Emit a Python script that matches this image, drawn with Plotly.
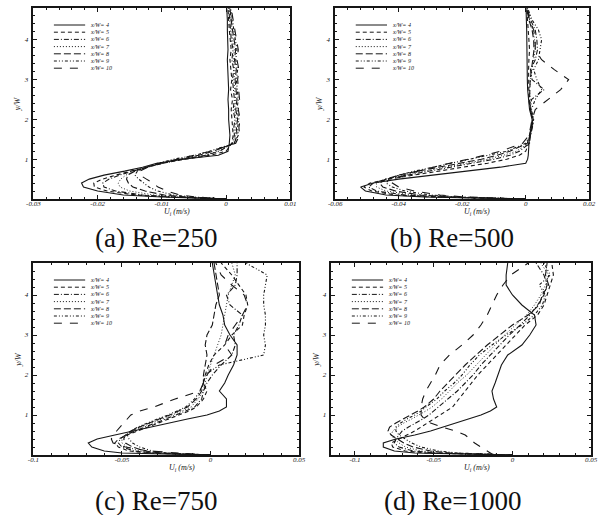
import plotly.graph_objects as go

# Heights y/W shared by every velocity profile
Y = [0, 0.05, 0.1, 0.2, 0.3, 0.4, 0.5, 0.6, 0.7, 0.8, 0.9, 1.0, 1.1, 1.2, 1.4, 1.6,
     1.8, 2.0, 2.25, 2.5, 2.75, 3.0, 3.25, 3.5, 3.75, 4.0, 4.25, 4.5, 4.8]

STATIONS = ["x/W= 4", "x/W= 5", "x/W= 6", "x/W= 7", "x/W= 8", "x/W= 9", "x/W= 10"]
CAPTIONS = ["(a) Re=250", "(b) Re=500", "(c) Re=750", "(d) Re=1000"]

# ---- Re = 250 : U_i (m/s) at each height, one list per station
u250_4 = [0, -.0100, -.0160, -.0200, -.0222, -.0225, -.0213, -.0190, -.0158, -.0130, -.0108, -.0068, -.0012, .0003, .0005, .0006, .0005, .0004, .0004, .0003, .0004, .0003, .0003, .0002, .0003, .0002, .0002, .0002, .0001]
u250_5 = [0, -.0090, -.0140, -.0185, -.0205, -.0206, -.0192, -.0172, -.0148, -.0122, -.0098, -.0064, -.0024, .0000, .0009, .0011, .0010, .0009, .0008, .0010, .0007, .0009, .0008, .0006, .0008, .0006, .0005, .0004, .0003]
u250_6 = [0, -.0082, -.0130, -.0172, -.0190, -.0192, -.0182, -.0166, -.0145, -.0123, -.0100, -.0068, -.0032, -.0010, .0010, .0013, .0012, .0014, .0011, .0013, .0012, .0010, .0012, .0009, .0011, .0008, .0007, .0006, .0004]
u250_7 = [0, -.0072, -.0112, -.0150, -.0165, -.0168, -.0164, -.0156, -.0142, -.0122, -.0098, -.0066, -.0032, -.0013, .0012, .0015, .0014, .0016, .0013, .0015, .0014, .0012, .0014, .0011, .0013, .0010, .0009, .0007, .0005]
u250_8 = [0, -.0062, -.0096, -.0126, -.0145, -.0152, -.0155, -.0153, -.0142, -.0124, -.0102, -.0074, -.0042, -.0020, .0013, .0017, .0016, .0018, .0015, .0017, .0016, .0014, .0016, .0013, .0015, .0012, .0010, .0008, .0006]
u250_9 = [0, -.0052, -.0082, -.0106, -.0120, -.0128, -.0136, -.0142, -.0138, -.0124, -.0106, -.0082, -.0048, -.0026, .0013, .0019, .0018, .0020, .0017, .0019, .0018, .0016, .0018, .0015, .0017, .0014, .0012, .0010, .0007]
u250_10 = [0, -.0046, -.0072, -.0092, -.0106, -.0114, -.0124, -.0134, -.0134, -.0122, -.0102, -.0078, -.0050, -.0024, .0015, .0021, .0020, .0022, .0019, .0021, .0020, .0018, .0020, .0017, .0019, .0016, .0014, .0011, .0008]

# ---- Re = 500
u500_4 = [0, -.0320, -.0440, -.0505, -.0520, -.0480, -.0400, -.0290, -.0180, -.0080, .0000, .0006, .0008, .0009, .0010, .0012, .0018, .0020, .0012, .0008, .0006, .0005, .0005, .0004, .0004, .0003, .0003, .0002, .0001]
u500_5 = [0, -.0290, -.0410, -.0485, -.0510, -.0490, -.0430, -.0350, -.0270, -.0190, -.0120, -.0060, -.0020, .0000, .0010, .0013, .0020, .0022, .0014, .0010, .0009, .0008, .0009, .0010, .0012, .0010, .0008, .0006, .0003]
u500_6 = [0, -.0270, -.0380, -.0470, -.0495, -.0480, -.0440, -.0370, -.0300, -.0230, -.0160, -.0100, -.0050, -.0020, .0012, .0015, .0021, .0024, .0015, .0018, .0058, .0020, .0015, .0030, .0037, .0035, .0030, .0015, .0005]
u500_7 = [0, -.0250, -.0350, -.0440, -.0470, -.0470, -.0440, -.0390, -.0320, -.0250, -.0180, -.0120, -.0070, -.0030, .0010, .0014, .0020, .0023, .0016, .0014, .0012, .0015, .0020, .0025, .0030, .0028, .0022, .0012, .0004]
u500_8 = [0, -.0230, -.0330, -.0410, -.0450, -.0460, -.0440, -.0400, -.0340, -.0270, -.0200, -.0140, -.0090, -.0050, .0005, .0012, .0018, .0022, .0015, .0012, .0013, .0014, .0018, .0022, .0026, .0025, .0020, .0010, .0003]
u500_9 = [0, -.0210, -.0300, -.0380, -.0420, -.0440, -.0430, -.0400, -.0350, -.0290, -.0230, -.0170, -.0110, -.0060, .0000, .0015, .0020, .0025, .0018, .0030, .0050, .0035, .0025, .0040, .0045, .0050, .0040, .0020, .0006]
u500_10 = [0, -.0190, -.0270, -.0350, -.0400, -.0420, -.0410, -.0380, -.0340, -.0290, -.0240, -.0180, -.0130, -.0080, -.0010, .0010, .0015, .0020, .0030, .0070, .0110, .0135, .0090, .0050, .0030, .0030, .0025, .0012, .0004]

# ---- Re = 750
u750_4 = [0, -.050, -.060, -.067, -.069, -.064, -.054, -.044, -.034, -.024, -.013, -.002, .005, .009, .009, .005, .008, .010, .013, .015, .015, .011, .008, .007, .005, .004, .003, .002, .001]
u750_5 = [0, -.036, -.046, -.052, -.054, -.052, -.047, -.041, -.035, -.029, -.023, -.017, -.012, -.008, -.004, -.002, -.004, -.003, -.001, .002, .008, .012, .018, .019, .021, .020, .016, .012, .006]
u750_6 = [0, -.033, -.043, -.050, -.052, -.051, -.048, -.043, -.037, -.031, -.025, -.019, -.014, -.009, -.005, -.004, -.002, .001, .006, .012, .014, .013, .016, .018, .011, .009, .014, .015, .015]
u750_7 = [0, -.030, -.040, -.047, -.050, -.050, -.048, -.044, -.039, -.033, -.027, -.021, -.016, -.011, -.007, -.004, -.003, -.002, .000, .002, .004, .006, .007, .008, .009, .010, .012, .014, .012]
u750_8 = [0, -.028, -.037, -.044, -.048, -.049, -.048, -.045, -.040, -.035, -.029, -.023, -.018, -.013, -.008, -.005, -.004, -.004, -.003, -.002, -.003, -.002, .001, .002, .003, .005, .004, .003, .002]
u750_9 = [0, -.025, -.033, -.040, -.044, -.046, -.047, -.045, -.041, -.036, -.030, -.024, -.019, -.014, -.009, -.006, -.004, -.003, .005, .030, .031, .030, .031, .031, .030, .030, .031, .032, .020]
u750_10 = [0, -.020, -.035, -.048, -.055, -.056, -.055, -.053, -.051, -.049, -.047, -.045, -.040, -.032, -.020, -.006, -.004, -.002, .002, .012, .008, .010, .014, .018, .021, .019, .012, .006, .003]

# ---- Re = 1000
u1000_4 = [0, -.062, -.075, -.082, -.082, -.074, -.062, -.052, -.044, -.036, -.028, -.020, -.014, -.010, -.012, -.013, -.011, -.009, -.007, -.003, .006, .011, .015, .014, .006, .000, -.004, -.004, -.003]
u1000_5 = [0, -.055, -.068, -.076, -.077, -.072, -.066, -.062, -.058, -.054, -.050, -.046, -.042, -.038, -.034, -.030, -.026, -.022, -.016, -.010, -.004, .002, .008, .016, .020, .022, .024, .026, .025]
u1000_6 = [0, -.050, -.063, -.072, -.075, -.074, -.072, -.070, -.066, -.061, -.057, -.053, -.050, -.047, -.041, -.035, -.030, -.025, -.020, -.014, -.008, -.002, .005, .011, .016, .020, .022, .020, .015]
u1000_7 = [0, -.045, -.058, -.068, -.072, -.075, -.077, -.076, -.073, -.069, -.064, -.059, -.055, -.051, -.045, -.040, -.035, -.029, -.023, -.017, -.011, -.005, .002, .009, .014, .018, .021, .023, .018]
u1000_8 = [0, -.040, -.052, -.063, -.069, -.073, -.077, -.079, -.078, -.074, -.069, -.064, -.060, -.056, -.050, -.046, -.041, -.036, -.030, -.023, -.016, -.008, .000, .010, .017, .019, .023, .021, .022]
u1000_9 = [0, -.035, -.047, -.058, -.064, -.068, -.072, -.074, -.074, -.071, -.067, -.062, -.058, -.055, -.048, -.043, -.037, -.032, -.027, -.021, -.013, -.004, .006, .014, .019, .021, .017, .024, .020]
u1000_10 = [-.012, -.014, -.016, -.020, -.024, -.027, -.030, -.036, -.045, -.052, -.056, -.058, -.058, -.058, -.057, -.055, -.052, -.049, -.046, -.040, -.032, -.025, -.020, -.016, -.013, -.010, -.006, -.001, .010]

PROFILES = [
    [u250_4, u250_5, u250_6, u250_7, u250_8, u250_9, u250_10],
    [u500_4, u500_5, u500_6, u500_7, u500_8, u500_9, u500_10],
    [u750_4, u750_5, u750_6, u750_7, u750_8, u750_9, u750_10],
    [u1000_4, u1000_5, u1000_6, u1000_7, u1000_8, u1000_9, u1000_10],
]

# Axis scales and tick labels of the four panels
X_RANGES = [[-0.03, 0.01], [-0.06, 0.02], [-0.1, 0.05], [-0.115, 0.05]]
X_TICKS = [[-0.03, -0.02, -0.01, 0, 0.01], [-0.06, -0.04, -0.02, 0, 0.02],
           [-0.1, -0.05, 0, 0.05], [-0.1, -0.05, 0, 0.05]]
X_TICKTEXT = [["-0.03", "-0.02", "-0.01", "0", "0.01"], ["-0.06", "-0.04", "-0.02", "0", "0.02"],
              ["-0.1", "-0.05", "0", "0.05"], ["-0.1", "-0.05", "0", "0.05"]]
X_MINOR = [0.002, 0.004, 0.01, 0.01]
Y_RANGE = [0, 4.8]
Y_TICKS = [1, 2, 3, 4]

# Line styles per station
DASHES = ["solid", "4px,3px", "5px,2px,1px,2px", "1px,2px", "7px,3px",
          "3px,2px,1px,2px,1px,2px", "8px,8px"]

W, H = 606, 515
# Plot frames in pixels: left, right, top, bottom
FRAMES = [(27, 290, 8, 199), (336, 596, 8, 199), (27, 299, 263, 455), (332, 598, 263, 455)]
CAPTION_POS = [(153, 238), (456, 238), (153, 501), (456, 501)]

INK = "#161616"
SERIF = "Liberation Serif"

fig = go.Figure()
annotations = []
shapes = []

for p, (left, right, top, bottom) in enumerate(FRAMES):
    sfx = "" if p == 0 else str(p + 1)
    xa, ya = "x" + sfx, "y" + sfx
    dom_x = [left / W, right / W]
    dom_y = [1 - bottom / H, 1 - top / H]
    axis_common = dict(
        showline=True, linecolor=INK, linewidth=1.5, mirror="allticks",
        ticks="inside", ticklen=4, tickwidth=1, tickcolor=INK,
        showgrid=False, zeroline=False,
        tickfont=dict(family=SERIF, size=7, color=INK, style="italic"),
    )
    fig.update_layout(**{
        "xaxis" + sfx: dict(
            domain=dom_x, range=X_RANGES[p], anchor=ya,
            tickvals=X_TICKS[p], ticktext=X_TICKTEXT[p],
            minor=dict(ticks="inside", ticklen=2, dtick=X_MINOR[p], tickcolor=INK),
            ticklabelstandoff=-3, **axis_common),
        "yaxis" + sfx: dict(
            domain=dom_y, range=Y_RANGE, anchor=xa,
            tickvals=Y_TICKS, ticktext=[str(t) for t in Y_TICKS],
            minor=dict(ticks="inside", ticklen=2, dtick=0.2, tickcolor=INK),
            ticklabelstandoff=2, **axis_common),
    })

    for s, name in enumerate(STATIONS):
        fig.add_trace(go.Scatter(
            x=PROFILES[p][s], y=Y, mode="lines", name=name, showlegend=False,
            xaxis=xa, yaxis=ya,
            line=dict(color=INK, width=1.1 if s != 3 else 0.9, dash=DASHES[s]),
        ))

    # key for the stations, drawn inside the upper-left corner of the frame
    pw, ph = right - left, bottom - top
    for s, name in enumerate(STATIONS):
        yy = 1 - (17 + 7.2 * s) / ph
        shapes.append(dict(
            type="line", xref=xa + " domain", yref=ya + " domain",
            x0=21 / pw, x1=53 / pw, y0=yy, y1=yy,
            line=dict(color=INK, width=1, dash=DASHES[s])))
        annotations.append(dict(
            xref=xa + " domain", yref=ya + " domain", x=56 / pw, y=yy,
            text="<i>" + name + "</i>", showarrow=False, xanchor="left", yanchor="middle",
            font=dict(family=SERIF, size=6, color=INK)))

    # axis titles
    annotations.append(dict(
        xref=xa + " domain", yref="paper", x=0.56, y=1 - (bottom + 13) / H,
        text="<i>U<sub>i</sub> (m/s)</i>", showarrow=False, yanchor="middle",
        font=dict(family=SERIF, size=8, color=INK)))
    annotations.append(dict(
        xref="paper", yref=ya + " domain", x=(left - 16) / W, y=0.5,
        text="<i>y/W</i>", showarrow=False, textangle=-90, xanchor="center",
        font=dict(family=SERIF, size=8, color=INK)))

    cx, cy = CAPTION_POS[p]
    annotations.append(dict(
        xref="paper", yref="paper", x=cx / W, y=1 - cy / H,
        text=CAPTIONS[p], showarrow=False, xanchor="center", yanchor="middle",
        font=dict(family=SERIF, size=27, color="#111111")))

fig.update_layout(
    width=W, height=H, margin=dict(l=0, r=0, t=0, b=0),
    paper_bgcolor="white", plot_bgcolor="white",
    showlegend=False, annotations=annotations, shapes=shapes,
)

fig.write_html("out.html")
